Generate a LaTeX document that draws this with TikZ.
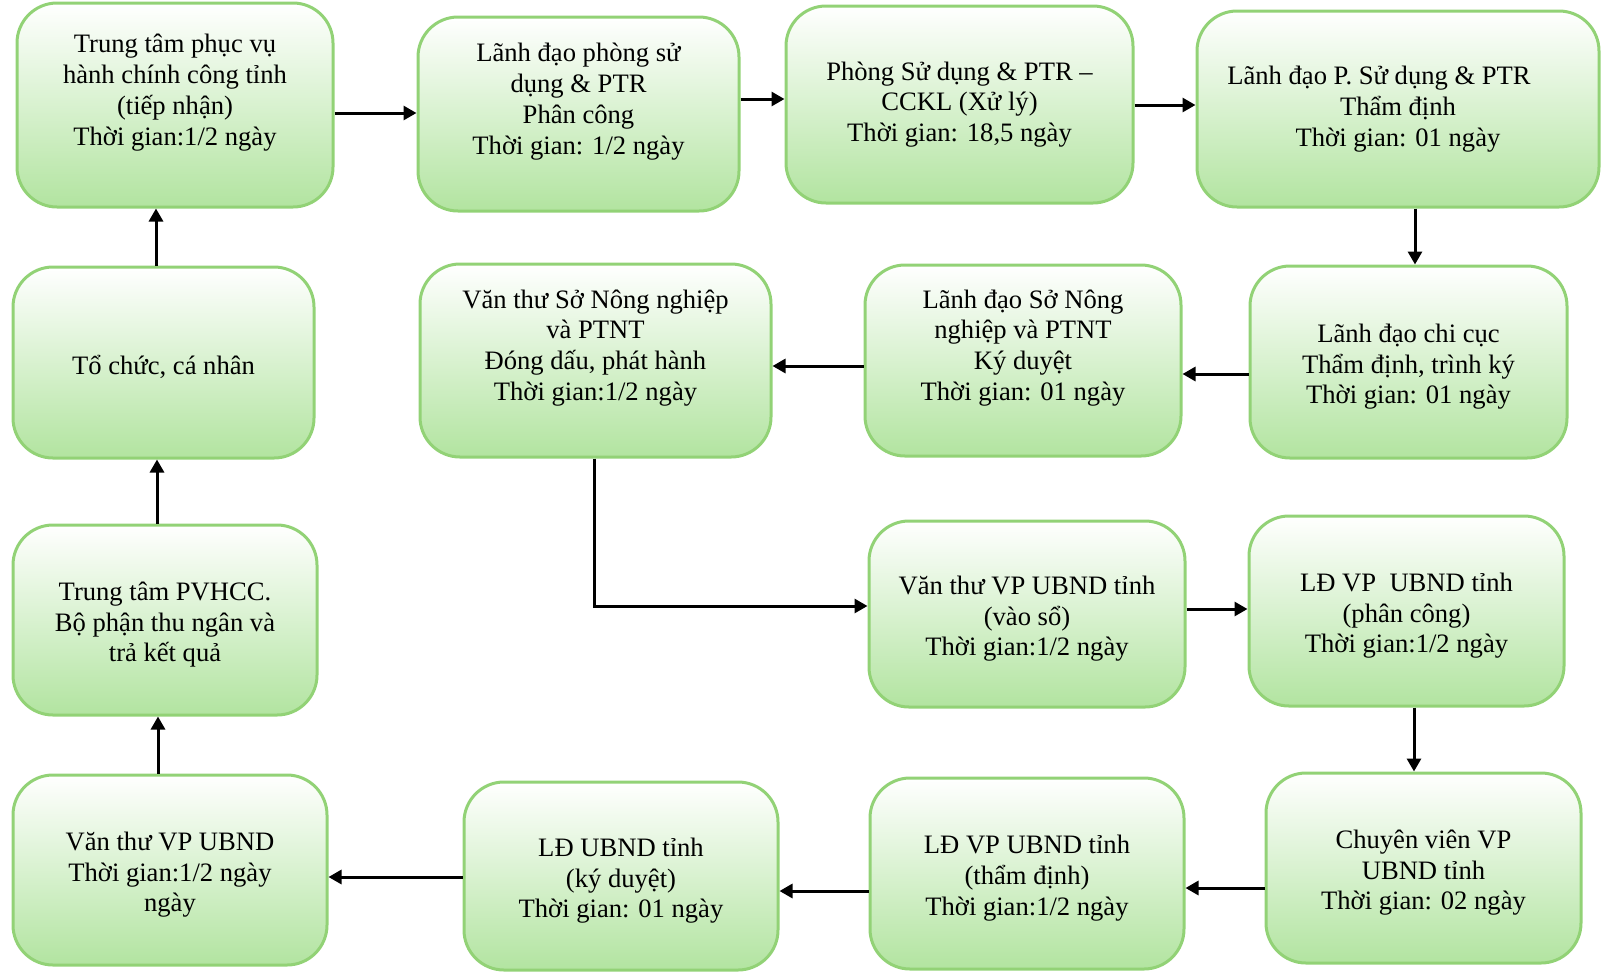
\documentclass[tikz,border=0pt]{standalone}
\usepackage{fontspec}
\setmainfont{Liberation Serif}
\usetikzlibrary{arrows.meta}
\definecolor{boxedge}{RGB}{146,210,118}
\definecolor{boxfill}{RGB}{178,228,160}
% taller first line: sets the text block a little lower in its box
\newcommand\topgap{\rule{0pt}{14pt}}
\tikzset{
  stepbox/.style={draw=boxedge, line width=1.5pt, rounded corners=20pt,
    top color=white, bottom color=boxfill, align=center, inner sep=2pt,
    font=\fontsize{13.3}{15.4}\selectfont},
  flow/.style={line width=1.5pt, -{Triangle[length=6.5pt,width=7pt]}}
}
\begin{document}
\begin{tikzpicture}[x=0.5pt,y=-0.5pt]
\useasboundingbox (0,0) rectangle (1608,971);

% top row
\node[stepbox, minimum width=158pt, minimum height=102pt] (tiepnhan) at (175,105)
  {Trung tâm phục vụ\\hành chính công tỉnh\\(tiếp nhận)\\Thời gian:1/2 ngày\\\mbox{}};
\node[stepbox, minimum width=160.5pt, minimum height=97pt] (phancong) at (578.5,114)
  {Lãnh đạo phòng sử\\dụng \& PTR\\Phân công\\Thời gian: 1/2 ngày\\\mbox{}};
\node[stepbox, minimum width=173.5pt, minimum height=98.5pt] (xuly) at (959.5,104.5)
  {Phòng Sử dụng \& PTR –\\CCKL (Xử lý)\\Thời gian: 18,5 ngày};
\node[stepbox, minimum width=201pt, minimum height=98pt] (thamdinh) at (1398,109)
  {Lãnh đạo P. Sử dụng \& PTR\hspace*{19pt}\\Thẩm định\\Thời gian: 01 ngày};

% second row
\node[stepbox, minimum width=150.5pt, minimum height=95.5pt] (tochuc) at (163.5,362.5)
  {\topgap Tổ chức, cá nhân};
\node[stepbox, minimum width=175.5pt, minimum height=96.5pt] (vanthuso) at (595.5,360.5)
  {Văn thư Sở Nông nghiệp\\và PTNT\\Đóng dấu, phát hành\\Thời gian:1/2 ngày\\\mbox{}};
\node[stepbox, minimum width=158pt, minimum height=95.5pt] (lanhdaoso) at (1023,360.5)
  {Lãnh đạo Sở Nông\\nghiệp và PTNT\\Ký duyệt\\Thời gian: 01 ngày\\\mbox{}};
\node[stepbox, minimum width=158.5pt, minimum height=96pt] (chicuc) at (1408.5,362)
  {\topgap Lãnh đạo chi cục\\Thẩm định, trình ký\\Thời gian: 01 ngày};

% third row
\node[stepbox, minimum width=152pt, minimum height=95pt] (traketqua) at (165,620)
  {\topgap Trung tâm PVHCC.\\Bộ phận thu ngân và\\trả kết quả};
\node[stepbox, minimum width=158pt, minimum height=93pt] (vaoso) at (1027,614)
  {\topgap Văn thư VP UBND tỉnh\\(vào sổ)\\Thời gian:1/2 ngày};
\node[stepbox, minimum width=157.5pt, minimum height=95pt] (vpphancong) at (1406.5,611)
  {\topgap LĐ VP\ \ UBND tỉnh\\(phân công)\\Thời gian:1/2 ngày};

% bottom row
\node[stepbox, minimum width=157pt, minimum height=95pt] (vanthuvp) at (170,870)
  {\topgap Văn thư VP UBND\\Thời gian:1/2 ngày\\ngày};
\node[stepbox, minimum width=157pt, minimum height=94pt] (kyduyet) at (621,876)
  {\topgap LĐ UBND tỉnh\\(ký duyệt)\\Thời gian: 01 ngày};
\node[stepbox, minimum width=157pt, minimum height=95.5pt] (vpthamdinh) at (1027,873.5)
  {\topgap LĐ VP UBND tỉnh\\(thẩm định)\\Thời gian:1/2 ngày};
\node[stepbox, minimum width=157.5pt, minimum height=95pt] (chuyenvien) at (1423.5,868)
  {\topgap Chuyên viên VP\\UBND tỉnh\\Thời gian: 02 ngày};

% connectors
\draw[flow] (tiepnhan.east |- 0,113) -- (phancong.west |- 0,113);
\draw[flow] (phancong.east |- 0,99) -- (xuly.west |- 0,99);
\draw[flow] (xuly.east |- 0,105) -- (thamdinh.west |- 0,105);
\draw[flow] (thamdinh.south -| 1415,0) -- (chicuc.north -| 1415,0);
\draw[flow] (chicuc.west |- 0,374) -- (lanhdaoso.east |- 0,374);
\draw[flow] (lanhdaoso.west |- 0,366) -- (vanthuso.east |- 0,366);
\draw[flow] (vanthuso.south -| 594,0) |- (vaoso.west |- 0,606);
\draw[flow] (vaoso.east |- 0,609) -- (vpphancong.west |- 0,609);
\draw[flow] (vpphancong.south -| 1414,0) -- (chuyenvien.north -| 1414,0);
\draw[flow] (chuyenvien.west |- 0,888) -- (vpthamdinh.east |- 0,888);
\draw[flow] (vpthamdinh.west |- 0,891) -- (kyduyet.east |- 0,891);
\draw[flow] (kyduyet.west |- 0,877) -- (vanthuvp.east |- 0,877);
\draw[flow] (vanthuvp.north -| 158,0) -- (traketqua.south -| 158,0);
\draw[flow] (traketqua.north -| 157,0) -- (tochuc.south -| 157,0);
\draw[flow] (tochuc.north -| 156,0) -- (tiepnhan.south -| 156,0);
\end{tikzpicture}
\end{document}
